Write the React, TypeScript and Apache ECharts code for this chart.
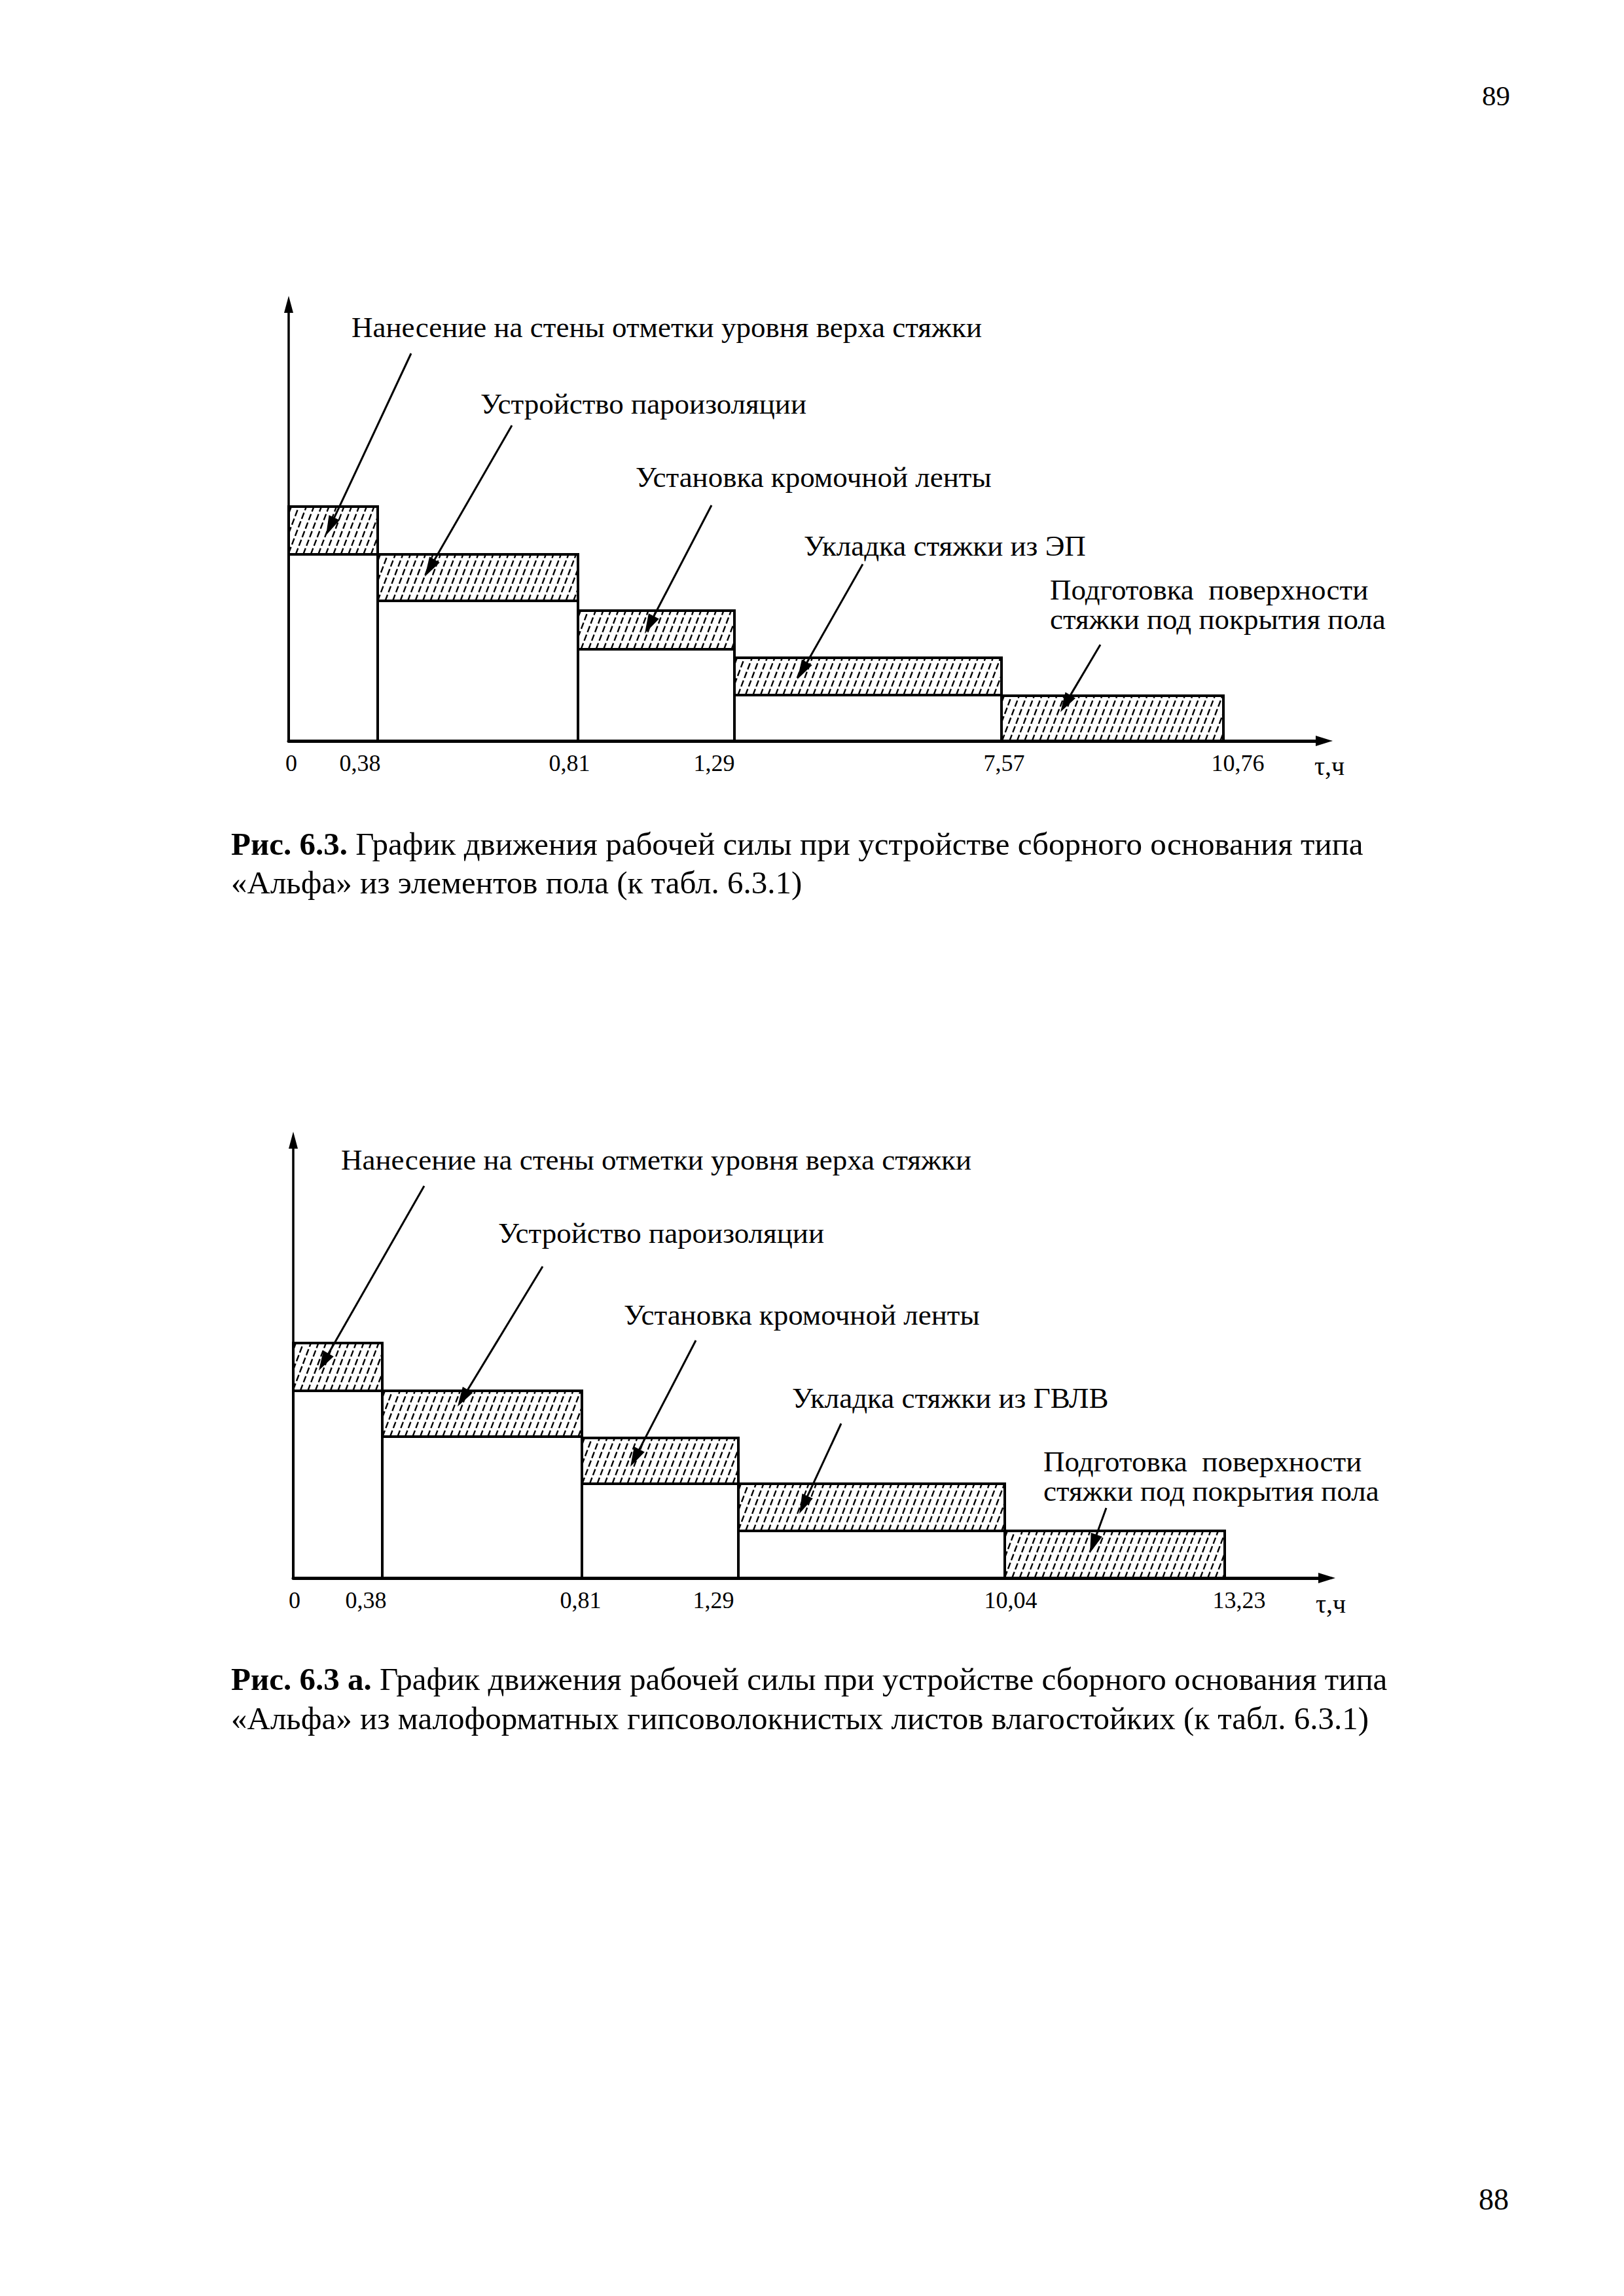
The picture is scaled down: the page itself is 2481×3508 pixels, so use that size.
import React, { useEffect, useRef } from 'react';
import * as echarts from 'echarts';

// ---- data ----
const timeLabelsA = ['0', '0,38', '0,81', '1,29', '7,57', '10,76'];
const timeLabelsB = ['0', '0,38', '0,81', '1,29', '10,04', '13,23'];
// drawn length of each stage on the schematic (non-proportional) time axis
const drawnSpanA = [1.36, 3.06, 2.39, 4.08, 3.39];
const drawnSpanB = [1.36, 3.05, 2.39, 4.07, 3.36];
// workforce levels (arbitrary units): lower (plain) part and top of the hatched part
const baseLevelA = [28.5, 21.4, 14.0, 7.0, 0];
const topLevelA = [35.8, 28.5, 19.9, 12.7, 6.9];
const baseLevelB = [28.6, 21.6, 14.4, 7.2, 0];
const topLevelB = [35.9, 28.6, 21.4, 14.4, 7.2];

const stageNamesA = [
  'Нанесение на стены отметки уровня верха стяжки',
  'Устройство пароизоляции',
  'Установка кромочной ленты',
  'Укладка стяжки из ЭП',
  'Подготовка  поверхности\nстяжки под покрытия пола',
];
const stageNamesB = [
  'Нанесение на стены отметки уровня верха стяжки',
  'Устройство пароизоляции',
  'Установка кромочной ленты',
  'Укладка стяжки из ГВЛВ',
  'Подготовка  поверхности\nстяжки под покрытия пола',
];

const captionA = [
  '{b|Рис. 6.3.} График движения рабочей силы при устройстве сборного основания типа',
  '«Альфа» из элементов пола (к табл. 6.3.1)',
];
const captionB = [
  '{b|Рис. 6.3 а.} График движения рабочей силы при устройстве сборного основания типа',
  '«Альфа» из малоформатных гипсоволокнистых листов влагостойких (к табл. 6.3.1)',
];
const pageNumbers = ['89', '88'];

// ---- styling (label nudges as typeset in the original) ----
const FONT = '"Liberation Serif", "Times New Roman", serif';
const labelNudgeA = [4, -27, -13, -31, 4, 22];
const labelNudgeB = [2, -25, -2, -38, 9, 22];

function cumulative(spans: number[]) {
  const out = [0];
  spans.forEach((s) => out.push(+(out[out.length - 1] + s).toFixed(4)));
  return out;
}

function buildData(spans: number[], base: number[], top: number[]) {
  const b = cumulative(spans);
  return spans.map((_, i) => [b[i], b[i + 1], base[i], top[i]]);
}

function renderStage(params: any, api: any) {
  const x0 = api.value(0);
  const x1 = api.value(1);
  const b = api.value(2);
  const t = api.value(3);
  const pb = api.coord([x0, b]);
  const pt = api.coord([x1, t]);
  const pz = api.coord([x0, 0]);
  const left = pb[0];
  const right = pt[0];
  const yb = pb[1];
  const yt = pt[1];
  const y0 = pz[1];
  const h = yb - yt;
  const k = 0.38;
  const step = 11.5;
  const children: any[] = [];
  for (let c = left - h * k + 4; c < right; c += step) {
    let xs = c;
    let ys = yb;
    let xe = c + h * k;
    let ye = yt;
    if (xs < left) {
      ys = yb - (left - c) / k;
      xs = left;
    }
    if (xe > right) {
      ye = yb - (right - c) / k;
      xe = right;
    }
    if (ys - ye < 2) continue;
    children.push({
      type: 'line',
      shape: { x1: xs, y1: ys, x2: xe, y2: ye },
      style: { stroke: '#000', lineWidth: 2.4, lineDash: [10, 4] },
    });
  }
  if (b > 0) {
    children.push({
      type: 'rect',
      shape: { x: left, y: yb, width: right - left, height: y0 - yb },
      style: { fill: 'none', stroke: '#000', lineWidth: 4 },
    });
  }
  children.push({
    type: 'rect',
    shape: { x: left, y: yt, width: right - left, height: yb - yt },
    style: { fill: 'none', stroke: '#000', lineWidth: 4 },
  });
  return { type: 'group', children };
}

function xAxisFor(gridIndex: number, max: number, spans: number[], labels: string[], nudge: number[]) {
  const bounds = cumulative(spans);
  const rich: any = {};
  nudge.forEach((n, i) => {
    rich['n' + i] = {
      fontFamily: FONT,
      fontSize: 36,
      color: '#000',
      padding: n >= 0 ? [0, 0, 0, 2 * n] : [0, -2 * n, 0, 0],
    };
  });
  return {
    gridIndex,
    type: 'value',
    min: 0,
    max,
    axisLine: {
      show: true,
      onZero: false,
      lineStyle: { color: '#000', width: 5 },
      symbol: ['none', 'triangle'],
      symbolSize: [16, 26],
    },
    axisTick: { show: false },
    splitLine: { show: false },
    axisLabel: {
      show: true,
      customValues: bounds,
      formatter: (v: number) => {
        const i = bounds.findIndex((bb) => Math.abs(bb - v) < 1e-6);
        return i >= 0 ? `{n${i}|${labels[i]}}` : '';
      },
      rich,
      fontFamily: FONT,
      fontSize: 36,
      color: '#000',
      margin: 16,
    },
  };
}

function yAxisFor(gridIndex: number, max: number) {
  return {
    gridIndex,
    type: 'value',
    min: 0,
    max,
    axisLine: {
      show: true,
      onZero: false,
      lineStyle: { color: '#000', width: 3.5 },
      symbol: ['none', 'triangle'],
      symbolSize: [14, 26],
    },
    axisTick: { show: false },
    axisLabel: { show: false },
    splitLine: { show: false },
  };
}

function txt(x: number, y: number, text: string, size: number, extra: any = {}) {
  return {
    type: 'text',
    x,
    y,
    style: {
      text,
      fill: '#000',
      font: `${size}px ${FONT}`,
      fontFamily: FONT,
      fontSize: size,
      align: extra.align || 'left',
      textAlign: extra.align || 'left',
      verticalAlign: 'middle',
      textVerticalAlign: 'middle',
      rich: extra.rich,
    },
  };
}

function leader(sx: number, sy: number, tx: number, ty: number) {
  const dx = tx - sx;
  const dy = ty - sy;
  const len = Math.sqrt(dx * dx + dy * dy);
  const ux = dx / len;
  const uy = dy / len;
  const L = 30;
  const W = 9;
  const bx = tx - ux * L;
  const by = ty - uy * L;
  return [
    {
      type: 'line',
      shape: { x1: sx, y1: sy, x2: bx + ux * 4, y2: by + uy * 4 },
      style: { stroke: '#000', lineWidth: 3 },
    },
    {
      type: 'polygon',
      shape: {
        points: [
          [tx, ty],
          [bx - uy * W, by + ux * W],
          [bx + uy * W, by - ux * W],
        ],
      },
      style: { fill: '#000' },
    },
  ];
}

export default function App() {
  const ref = useRef<HTMLDivElement>(null);
  useEffect(() => {
    if (!ref.current) return;
    const chart = echarts.init(ref.current, undefined, { renderer: 'svg' });

    const ann = (names: string[], pos: number[][], lines: number[][]) => {
      const out: any[] = [];
      names.forEach((n, i) => {
        n.split('\n').forEach((p, j) => {
          out.push(txt(pos[i][0], pos[i][1] + j * 45, p, 45));
        });
      });
      lines.forEach((l) => out.push(...leader(l[0], l[1], l[2], l[3])));
      return out;
    };

    const capRich = { b: { fontWeight: 'bold', fontFamily: FONT, fontSize: 49, fill: '#000' } };

    const graphics: any[] = [
      ...ann(
        stageNamesA,
        [
          [537, 500],
          [734, 617],
          [971, 729],
          [1228, 834],
          [1604, 901],
        ],
        [
          [628, 540, 498, 818],
          [782, 650, 649, 881],
          [1087, 772, 985, 968],
          [1318, 862, 1218, 1038],
          [1681, 985, 1620, 1088],
        ]
      ),
      ...ann(
        stageNamesB,
        [
          [521, 1772],
          [761, 1884],
          [953, 2009],
          [1210, 2136],
          [1594, 2233],
        ],
        [
          [648, 1812, 487, 2094],
          [829, 1935, 699, 2149],
          [1063, 2048, 963, 2241],
          [1285, 2175, 1221, 2313],
          [1690, 2304, 1665, 2373],
        ]
      ),
      txt(2031, 1170, 'τ,ч', 40, { align: 'center' }),
      txt(2033, 2450, 'τ,ч', 40, { align: 'center' }),
      txt(353, 1289, captionA[0], 49, { rich: capRich }),
      txt(353, 1348, captionA[1], 49),
      txt(353, 2565, captionB[0], 49, { rich: capRich }),
      txt(353, 2625, captionB[1], 49),
      txt(2264, 146, pageNumbers[0], 43),
      txt(2259, 3360, pageNumbers[1], 46),
    ];

    chart.setOption({
      animation: false,
      backgroundColor: '#fff',
      grid: [
        { left: 441, top: 465, width: 1582, height: 667, outerBoundsMode: 'none' },
        { left: 448, top: 1742, width: 1579, height: 669, outerBoundsMode: 'none' },
      ],
      xAxis: [
        xAxisFor(0, 15.82, drawnSpanA, timeLabelsA, labelNudgeA),
        xAxisFor(1, 15.79, drawnSpanB, timeLabelsB, labelNudgeB),
      ],
      yAxis: [yAxisFor(0, 66.7), yAxisFor(1, 66.9)],
      series: [
        {
          type: 'custom',
          xAxisIndex: 0,
          yAxisIndex: 0,
          clip: false,
          renderItem: renderStage,
          data: buildData(drawnSpanA, baseLevelA, topLevelA),
          z: 5,
        },
        {
          type: 'custom',
          xAxisIndex: 1,
          yAxisIndex: 1,
          clip: false,
          renderItem: renderStage,
          data: buildData(drawnSpanB, baseLevelB, topLevelB),
          z: 5,
        },
      ],
      graphic: graphics,
    });
    return () => chart.dispose();
  }, []);
  return (
    <div
      ref={ref}
      style={{ position: 'absolute', left: 0, top: 0, width: 2481, height: 3508, background: '#fff' }}
    />
  );
}
